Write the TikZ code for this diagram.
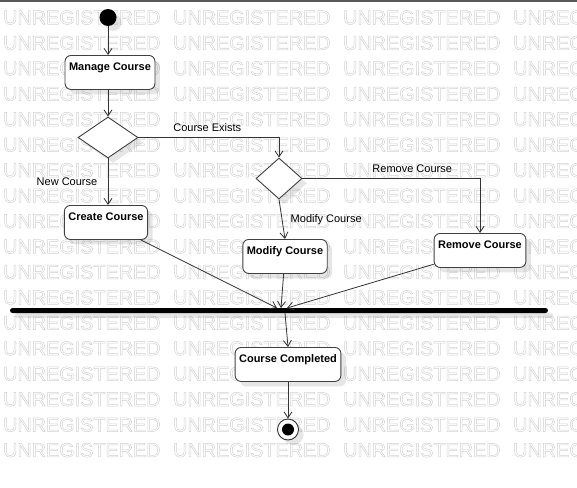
\documentclass[tikz,border=0pt]{standalone}
\usepackage{fontspec}
\setmainfont{Liberation Sans}
\usetikzlibrary{arrows.meta, shapes.geometric, shadows, positioning, calc}

\newcommand{\outlinetext}[1]{\special{pdf:literal direct 1 Tr 0.5 w}#1\special{pdf:literal direct 0 Tr}}

\tikzset{
    softshadow/.style={drop shadow={shadow xshift=5pt, shadow yshift=-5pt, opacity=0.2, fill=black!50}},
    activity/.style={draw=black!75, fill=white, rounded corners=6pt, line width=0.9pt,
        font=\fontsize{11}{13}\selectfont\bfseries, inner xsep=4pt, inner ysep=3pt,
        text height=12pt, text depth=16pt, anchor=north, softshadow},
    decision/.style={diamond, draw=black!75, fill=white, line width=0.9pt, inner sep=0pt, softshadow},
    initial/.style={circle, fill=black, minimum size=17pt, inner sep=0pt, softshadow},
    final/.style={circle, draw=black!80, fill=white, line width=0.9pt, minimum size=21pt, inner sep=0pt,
        softshadow, path picture={\fill[black] (path picture bounding box.center) circle[radius=6pt];}},
    joinbar/.style={fill=black, rounded corners=2.5pt, minimum width=538pt, minimum height=5pt, inner sep=0pt, softshadow},
    flow/.style={draw=black!80, line width=0.8pt, -{Straight Barb[length=6pt,width=8pt]}},
    guard/.style={font=\fontsize{11}{13}\selectfont},
    watermark/.style={text=black!18, font=\fontsize{19.8}{20}\selectfont, inner sep=0pt, anchor=west}
}

\begin{document}
\begin{tikzpicture}[x=1pt, y=-1pt]
    \useasboundingbox (0,0) rectangle (577,487);

    % Background watermark
    \foreach \row in {0,...,17}
        \foreach \col in {0,...,3}
            \node[watermark] (wm-\row-\col) at ({3+170*\col},{17.5+25.45*\row}) {\outlinetext{UNREGISTERED}};
    \fill[black!65] (0,0) rectangle (577,2.5);

    % Activity nodes
    \node[initial] (start) at (108,17.5) {};
    \node[activity] (manage) at (110,55) {Manage Course};
    \node[decision, minimum width=60pt, minimum height=41pt] (exists) at (108,137.5) {};
    \node[decision, minimum width=46pt, minimum height=41pt] (choice) at (279,178.5) {};
    \node[activity] (create) at (106,205) {Create Course};
    \node[activity] (modify) at (285,239) {Modify Course};
    \node[activity] (remove) at (480,233) {Remove Course};
    \node[joinbar] (join) at (279,310.5) {};
    \node[activity] (completed) at (288,347) {Course Completed};
    \node[final] (finish) at (288,429.5) {};

    % Join points on the bar
    \coordinate (in1) at (277,308);
    \coordinate (in2) at (281,308);
    \coordinate (in3) at (287,308);
    \coordinate (out) at (285,313);

    % Draw flows
    \draw[flow] (start) -- (start |- manage.north);
    \draw[flow] (manage.south -| exists) -- (exists.north);
    \draw[flow] (exists.east) -| node[guard, above=2pt, pos=0.245] (lexists) {Course Exists} (choice.north);
    \draw[flow] (exists.south) -- node[guard, left=7pt] (lnew) {New Course} (exists.south |- create.north);
    \draw[flow] (choice.south) -- node[guard, right=5pt] (lmodify) {Modify Course} (modify.north);
    \draw[flow] (choice.east) -| node[guard, above=2pt, pos=0.309] (lremove) {Remove Course} (remove.north);

    % Flows into and out of the bar
    \draw[flow] (create) -- (in1);
    \draw[flow] (modify) -- (in2);
    \draw[flow] (remove) -- (in3);
    \draw[flow] (out) -- (completed.north);
    \draw[flow] (completed) -- (finish);

\end{tikzpicture}
\end{document}
